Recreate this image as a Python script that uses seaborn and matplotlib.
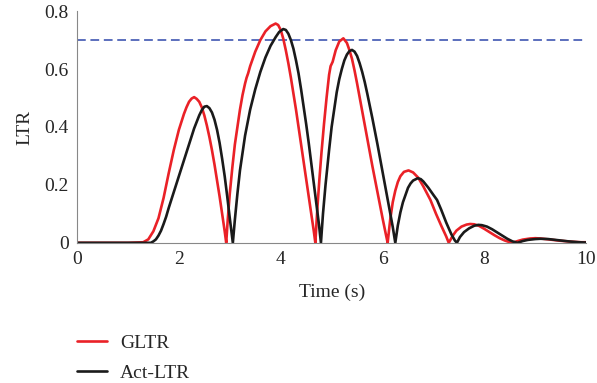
import matplotlib
matplotlib.use("Agg")
import matplotlib.pyplot as plt
import seaborn as sns
import pandas as pd

# GLTR (red) readings
gltr_t = [0, 1.0, 1.3, 1.4, 1.5, 1.6, 1.7, 1.8, 1.9, 2.0, 2.1, 2.15, 2.2, 2.25, 2.3, 2.35, 2.4, 2.45, 2.5, 2.55,
          2.6, 2.65, 2.7, 2.75, 2.8, 2.85, 2.9, 2.93,
          2.96, 3.0, 3.05, 3.1, 3.15, 3.2, 3.25, 3.3, 3.33, 3.36, 3.4, 3.5, 3.6, 3.7, 3.8, 3.9, 3.95, 4.0, 4.05,
          4.1, 4.15, 4.2, 4.25, 4.3, 4.35, 4.4, 4.45, 4.5, 4.55, 4.6, 4.65, 4.68,
          4.72, 4.76, 4.8, 4.85, 4.9, 4.95, 4.98, 5.02, 5.08, 5.15, 5.23, 5.3, 5.35, 5.4, 5.45, 5.5, 5.6, 5.7,
          5.8, 5.9, 6.0, 6.07, 6.1,
          6.15, 6.2, 6.25, 6.3, 6.35, 6.42, 6.51, 6.6, 6.7, 6.8, 6.94, 7.05, 7.15, 7.25, 7.3,
          7.38, 7.45, 7.55, 7.65, 7.72, 7.8, 7.9, 8.0, 8.1, 8.2, 8.3, 8.4, 8.5, 8.55,
          8.65, 8.75, 8.9, 9.0, 9.1, 9.3, 9.5, 9.7, 9.9, 10.0]
gltr_v = [0, 0, 0.002, 0.012, 0.04, 0.085, 0.155, 0.24, 0.32, 0.39, 0.445, 0.468, 0.487, 0.498, 0.503, 0.497, 0.487, 0.468, 0.44, 0.405,
          0.365, 0.32, 0.27, 0.215, 0.16, 0.1, 0.04, 0.0,
          0.08, 0.17, 0.26, 0.34, 0.40, 0.46, 0.51, 0.55, 0.57, 0.585, 0.61, 0.66, 0.70, 0.73, 0.748, 0.757, 0.752, 0.735, 0.705,
          0.665, 0.62, 0.57, 0.515, 0.46, 0.40, 0.34, 0.28, 0.22, 0.16, 0.10, 0.04, 0.0,
          0.12, 0.22, 0.31, 0.41, 0.50, 0.58, 0.61, 0.625, 0.665, 0.695, 0.706, 0.69, 0.665, 0.635, 0.595, 0.55, 0.455, 0.36,
          0.265, 0.175, 0.085, 0.025, 0.0,
          0.08, 0.14, 0.18, 0.21, 0.23, 0.245, 0.25, 0.243, 0.225, 0.195, 0.148, 0.10, 0.06, 0.022, 0.0,
          0.025, 0.042, 0.056, 0.063, 0.065, 0.064, 0.058, 0.048, 0.037, 0.026, 0.016, 0.008, 0.002, 0.0,
          0.006, 0.011, 0.015, 0.016, 0.015, 0.011, 0.007, 0.004, 0.002, 0.002]

# Act-LTR (black) readings
act_t = [0, 1.45, 1.5, 1.55, 1.6, 1.65, 1.7, 1.75, 1.8, 1.9, 2.0, 2.1, 2.2, 2.3, 2.4, 2.45, 2.5, 2.55, 2.6, 2.65,
         2.7, 2.75, 2.8, 2.85, 2.9, 2.95, 3.0, 3.06,
         3.1, 3.15, 3.2, 3.3, 3.4, 3.5, 3.6, 3.7, 3.8, 3.9, 3.97, 4.05, 4.1, 4.15, 4.2, 4.25, 4.3, 4.35, 4.4,
         4.45, 4.5, 4.55, 4.6, 4.65, 4.7, 4.75, 4.79,
         4.83, 4.88, 4.95, 5.0, 5.05, 5.1, 5.15, 5.2, 5.25, 5.3, 5.35, 5.4, 5.45, 5.5, 5.55, 5.6, 5.65, 5.7,
         5.8, 5.9, 6.0, 6.1, 6.2, 6.25,
         6.3, 6.35, 6.4, 6.45, 6.5, 6.55, 6.6, 6.69, 6.75, 6.8, 6.9, 7.0, 7.07, 7.15, 7.25, 7.35, 7.42, 7.46,
         7.52, 7.6, 7.7, 7.8, 7.88, 7.95, 8.05, 8.15, 8.25, 8.35, 8.45, 8.55, 8.65,
         8.75, 8.85, 9.0, 9.1, 9.25, 9.45, 9.65, 9.85, 10.0]
act_v = [0, 0, 0.005, 0.012, 0.025, 0.042, 0.065, 0.09, 0.12, 0.175, 0.23, 0.285, 0.34, 0.395, 0.44, 0.458, 0.47, 0.472, 0.465, 0.45,
         0.425, 0.39, 0.345, 0.29, 0.23, 0.16, 0.085, 0.0,
         0.08, 0.17, 0.25, 0.37, 0.46, 0.53, 0.59, 0.64, 0.68, 0.71, 0.728, 0.738, 0.735, 0.722, 0.70, 0.67, 0.63, 0.585, 0.53,
         0.47, 0.41, 0.345, 0.275, 0.205, 0.135, 0.065, 0.0,
         0.10, 0.20, 0.32, 0.40, 0.46, 0.52, 0.565, 0.60, 0.63, 0.65, 0.662, 0.666, 0.66, 0.645, 0.62, 0.59, 0.555, 0.515,
         0.43, 0.34, 0.245, 0.15, 0.055, 0.0,
         0.06, 0.105, 0.14, 0.165, 0.19, 0.205, 0.215, 0.223, 0.22, 0.212, 0.19, 0.165, 0.148, 0.115, 0.07, 0.03, 0.008, 0.0,
         0.02, 0.037, 0.05, 0.059, 0.062, 0.061, 0.056, 0.047, 0.036, 0.025, 0.014, 0.005, 0.0,
         0.006, 0.01, 0.013, 0.014, 0.013, 0.009, 0.005, 0.002, 0.001]

threshold = 0.7
x_ticks = [0, 2, 4, 6, 8, 10]
y_ticks = [0, 0.2, 0.4, 0.6, 0.8]
y_tick_labels = ["0", "0.2", "0.4", "0.6", "0.8"]

sns.set_theme(style="white")
plt.rcParams["font.family"] = ["Liberation Serif", "DejaVu Serif"]

fig = plt.figure(figsize=(5.97, 3.83), dpi=100)
ax = fig.add_axes([0.129, 0.366, 0.853, 0.605])

df_g = pd.DataFrame({"t": gltr_t, "v": gltr_v})
df_a = pd.DataFrame({"t": act_t, "v": act_v})

ax.axhline(threshold, color="#5b6fbd", lw=1.4, dashes=(4.5, 2.4))
sns.lineplot(data=df_g, x="t", y="v", ax=ax, color="#ea2127", lw=1.9, label="GLTR", estimator=None, sort=False)
sns.lineplot(data=df_a, x="t", y="v", ax=ax, color="#1a1a1a", lw=1.9, label="Act-LTR", estimator=None, sort=False)

ax.set_xlim(0, 10)
ax.set_ylim(0, 0.8)
ax.set_xticks(x_ticks)
ax.set_yticks(y_ticks)
ax.set_yticklabels(y_tick_labels)
ax.set_xlabel("Time (s)", fontsize=14, labelpad=11)
ax.set_ylabel("LTR", fontsize=14, labelpad=8)
ax.tick_params(axis="both", direction="in", length=4, width=0.8, color="#777777", labelsize=14, pad=6)

for s in ["top", "right"]:
    ax.spines[s].set_visible(False)
for s in ["left", "bottom"]:
    ax.spines[s].set_color("#888888")
    ax.spines[s].set_linewidth(0.8)

handles, labels = ax.get_legend_handles_labels()
ax.legend_.remove()
fig.legend(handles, labels, loc="upper left", bbox_to_anchor=(0.129, 0.128), frameon=False,
           fontsize=14, handlelength=1.55, handletextpad=0.67, labelspacing=0.65, borderpad=0, borderaxespad=0)

fig.savefig("out.png", dpi=100)
